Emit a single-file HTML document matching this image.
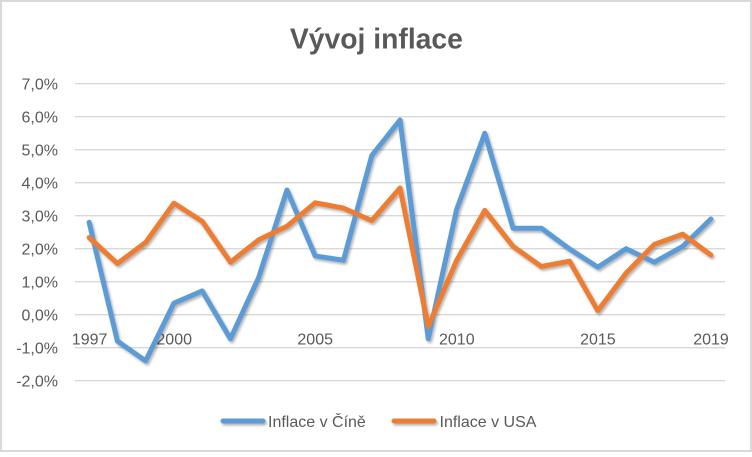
<!DOCTYPE html>
<html><head><meta charset="utf-8"><style>
html,body{margin:0;padding:0;background:#fff;}
body{width:752px;height:452px;overflow:hidden;}
</style></head><body>
<svg width="752" height="452" viewBox="0 0 752 452" xmlns="http://www.w3.org/2000/svg" font-family="'Liberation Sans', sans-serif">
<defs>
<filter id="sh" filterUnits="userSpaceOnUse" x="0" y="0" width="752" height="452">
<feDropShadow dx="1.5" dy="2" stdDeviation="1.3" flood-color="#000" flood-opacity="0.3"/>
</filter>
</defs>
<rect x="1" y="1" width="750" height="450" fill="#fff" stroke="#d9d9d9" stroke-width="2"/>
<text x="376.4" y="48.3" text-anchor="middle" font-size="28.3" font-weight="bold" fill="#595959">Vývoj inflace</text>
<g stroke="#d9d9d9" stroke-width="1.3">
<line x1="75" x2="725" y1="83.7" y2="83.7"/>
<line x1="75" x2="725" y1="116.7" y2="116.7"/>
<line x1="75" x2="725" y1="149.7" y2="149.7"/>
<line x1="75" x2="725" y1="182.7" y2="182.7"/>
<line x1="75" x2="725" y1="215.7" y2="215.7"/>
<line x1="75" x2="725" y1="248.7" y2="248.7"/>
<line x1="75" x2="725" y1="281.7" y2="281.7"/>
<line x1="75" x2="725" y1="314.7" y2="314.7"/>
<line x1="75" x2="725" y1="347.7" y2="347.7"/>
<line x1="75" x2="725" y1="380.7" y2="380.7"/>
</g>
<g font-size="16" fill="#595959" text-anchor="end">
<text x="58" y="89.4">7,0%</text>
<text x="58" y="122.4">6,0%</text>
<text x="58" y="155.4">5,0%</text>
<text x="58" y="188.4">4,0%</text>
<text x="58" y="221.4">3,0%</text>
<text x="58" y="254.4">2,0%</text>
<text x="58" y="287.4">1,0%</text>
<text x="58" y="320.4">0,0%</text>
<text x="58" y="353.4">-1,0%</text>
<text x="58" y="386.4">-2,0%</text>
</g>
<g font-size="16" fill="#595959" text-anchor="middle">
<text x="89.6" y="344.3">1997</text>
<text x="174.2" y="344.3">2000</text>
<text x="315.2" y="344.3">2005</text>
<text x="456.8" y="344.3">2010</text>
<text x="597.9" y="344.3">2015</text>
<text x="711" y="344.3">2019</text>
</g>
<g fill="none" stroke-width="5" stroke-linejoin="round" stroke-linecap="round" filter="url(#sh)">
<polyline stroke="#5b9bd5" points="89.13,222.3 117.39,341.1 145.65,360.9 173.91,303.15 202.17,290.9 230.43,338.8 258.70,277.4 286.96,189.96 315.22,255.96 343.48,260.25 371.74,155.6 400.0,120.0 428.26,338.8 456.52,209.76 484.78,133.2 513.04,228.2 541.30,228.2 569.57,249.0 597.83,267.2 626.09,248.7 654.35,262.2 682.61,246.4 710.87,219.0"/>
<polyline stroke="#ed7d31" points="89.13,237.5 117.39,263.55 145.65,242.4 173.91,203.2 202.17,221.3 230.43,262.2 258.70,239.8 286.96,226.3 315.22,202.8 343.48,208.1 371.74,220.65 400.0,188.0 428.26,326.6 456.52,260.6 484.78,210.4 513.04,246.4 541.30,266.5 569.57,261.2 597.83,310.7 626.09,273.1 654.35,244.4 682.61,234.2 710.87,255.0"/>
</g>
<g stroke-width="5" stroke-linecap="round" filter="url(#sh)">
<line x1="223" y1="421" x2="263" y2="421" stroke="#5b9bd5"/>
<line x1="394" y1="421" x2="434" y2="421" stroke="#ed7d31"/>
</g>
<g font-size="16" fill="#595959">
<text x="268" y="427">Inflace v Číně</text>
<text x="439.5" y="427">Inflace v USA</text>
</g>
</svg>
</body></html>
